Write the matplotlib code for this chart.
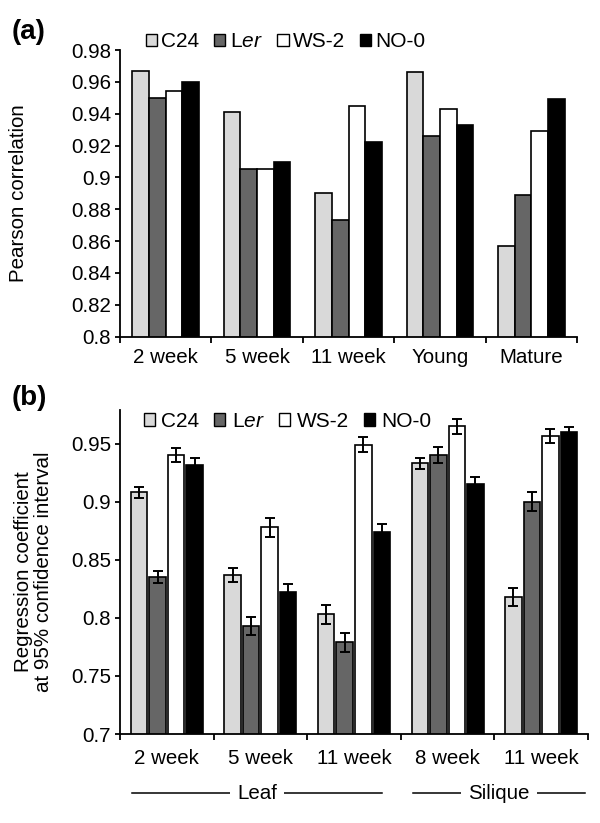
import matplotlib
matplotlib.use("Agg")
import matplotlib.pyplot as plt
import numpy as np
from matplotlib.patches import Patch
import matplotlib.transforms as mtransforms

plt.rcParams['font.family'] = ['Liberation Sans', 'DejaVu Sans']
plt.rcParams['mathtext.fontset'] = 'custom'
plt.rcParams['mathtext.rm'] = 'Liberation Sans'
plt.rcParams['mathtext.it'] = 'Liberation Sans:italic'

strains = ['C24', 'L$\\it{er}$', 'WS-2', 'NO-0']
colors = ['#d9d9d9', '#666666', '#ffffff', '#000000']

# Panel (a)
cats_a = ['2 week', '5 week', '11 week', 'Young', 'Mature']
pearson = {
    'C24':  [0.967, 0.941, 0.890, 0.966, 0.857],
    'Ler':  [0.950, 0.905, 0.873, 0.926, 0.889],
    'WS-2': [0.954, 0.905, 0.945, 0.943, 0.929],
    'NO-0': [0.960, 0.910, 0.922, 0.933, 0.949],
}

# Panel (b)
cats_b = ['2 week', '5 week', '11 week', '8 week', '11 week']
regr = {
    'C24':  [0.908, 0.837, 0.803, 0.933, 0.818],
    'Ler':  [0.835, 0.793, 0.779, 0.940, 0.900],
    'WS-2': [0.940, 0.878, 0.949, 0.965, 0.957],
    'NO-0': [0.932, 0.822, 0.874, 0.915, 0.960],
}
regr_err = {
    'C24':  [0.005, 0.006, 0.008, 0.0045, 0.008],
    'Ler':  [0.005, 0.008, 0.008, 0.007, 0.008],
    'WS-2': [0.006, 0.008, 0.0065, 0.0065, 0.006],
    'NO-0': [0.0055, 0.007, 0.007, 0.0065, 0.0045],
}
groups = [('Leaf', 0, 2), ('Silique', 3, 4)]

keys = ['C24', 'Ler', 'WS-2', 'NO-0']

fig = plt.figure(figsize=(6, 8.23), dpi=100)
ax1 = fig.add_axes([0.2, 0.5909, 0.7617, 0.3483])
ax2 = fig.add_axes([0.2, 0.1081, 0.78, 0.3937])

FS = 14.8

def style(ax, ncat, xpad):
    for s in ['top', 'right']:
        ax.spines[s].set_visible(False)
    for s in ['left', 'bottom']:
        ax.spines[s].set_linewidth(1.3)
    ax.set_xlim(-0.5, ncat - 0.5)
    ax.set_xticks(np.arange(ncat + 1) - 0.5)
    ax.set_xticklabels([])
    ax.set_xticks(np.arange(ncat), minor=True)
    ax.tick_params(axis='x', which='major', length=4, width=1.3, direction='out')
    ax.tick_params(axis='x', which='minor', length=0, pad=xpad, labelsize=FS)
    ax.tick_params(axis='y', length=3.5, width=1.3, direction='out', pad=3, labelsize=FS)

# (a)
x = np.arange(len(cats_a))
w = 0.182
for i, k in enumerate(keys):
    ax1.bar(x + (i - 1.5) * w, pearson[k], w, color=colors[i],
            edgecolor='black', linewidth=1.2, zorder=2)
ax1.set_ylim(0.8, 0.98)
ax1.set_yticks(np.arange(0.8, 0.981, 0.02))
ax1.set_yticklabels(['0.8', '0.82', '0.84', '0.86', '0.88', '0.9', '0.92', '0.94', '0.96', '0.98'])
style(ax1, len(cats_a), 8)
ax1.set_xticklabels(cats_a, minor=True)
ax1.set_ylabel('Pearson correlation', fontsize=FS)
ax1.yaxis.set_label_coords(-0.201, 0.5)

# (b)
x = np.arange(len(cats_b))
pitch = 0.198
wb = 0.176
for i, k in enumerate(keys):
    ax2.bar(x + (i - 1.5) * pitch, regr[k], wb, color=colors[i],
            edgecolor='black', linewidth=1.2, zorder=2,
            yerr=regr_err[k], capsize=3.6,
            error_kw=dict(elinewidth=1.4, capthick=1.4, ecolor='black', zorder=3))
ax2.set_ylim(0.7, 0.979)
ax2.set_yticks([0.7, 0.75, 0.8, 0.85, 0.9, 0.95])
ax2.set_yticklabels(['0.7', '0.75', '0.8', '0.85', '0.9', '0.95'])
style(ax2, len(cats_b), 11)
ax2.set_xticklabels(cats_b, minor=True)
ax2.set_ylabel('Regression coefficient\nat 95% confidence interval', fontsize=FS,
               linespacing=1.05)
ax2.yaxis.set_label_coords(-0.143, 0.5)

# Group labels under panel (b)
trans = mtransforms.blended_transform_factory(ax2.transData, ax2.transAxes)
yl = -0.182
for name, a, b in groups:
    left = a - 0.37
    right = b + 0.47 if name == 'Silique' else b + 0.30
    ax2.plot([left, right], [yl, yl], color='black', lw=1.1, transform=trans, clip_on=False)
    ax2.text((left + right) / 2, yl, name, transform=trans, ha='center', va='center',
             fontsize=FS, bbox=dict(facecolor='white', edgecolor='none', pad=5))

# Legends
handles = [Patch(facecolor=colors[i], edgecolor='black', linewidth=1.0) for i in range(4)]
for ax, anchor, tp in [(ax1, (0.057, 1.062), 0.2), (ax2, (0.051, 0.994), 0.3)]:
    ax.legend(handles, strains, loc='upper left', bbox_to_anchor=anchor, ncol=4,
              frameon=False, fontsize=15, handlelength=0.53, handleheight=0.53,
              handletextpad=tp, columnspacing=0.72, borderaxespad=0, borderpad=0)

fig.text(0.02, 0.961, '(a)', fontsize=20, fontweight='bold', va='center')
fig.text(0.02, 0.516, '(b)', fontsize=20, fontweight='bold', va='center')

fig.savefig('out.png', dpi=100)
